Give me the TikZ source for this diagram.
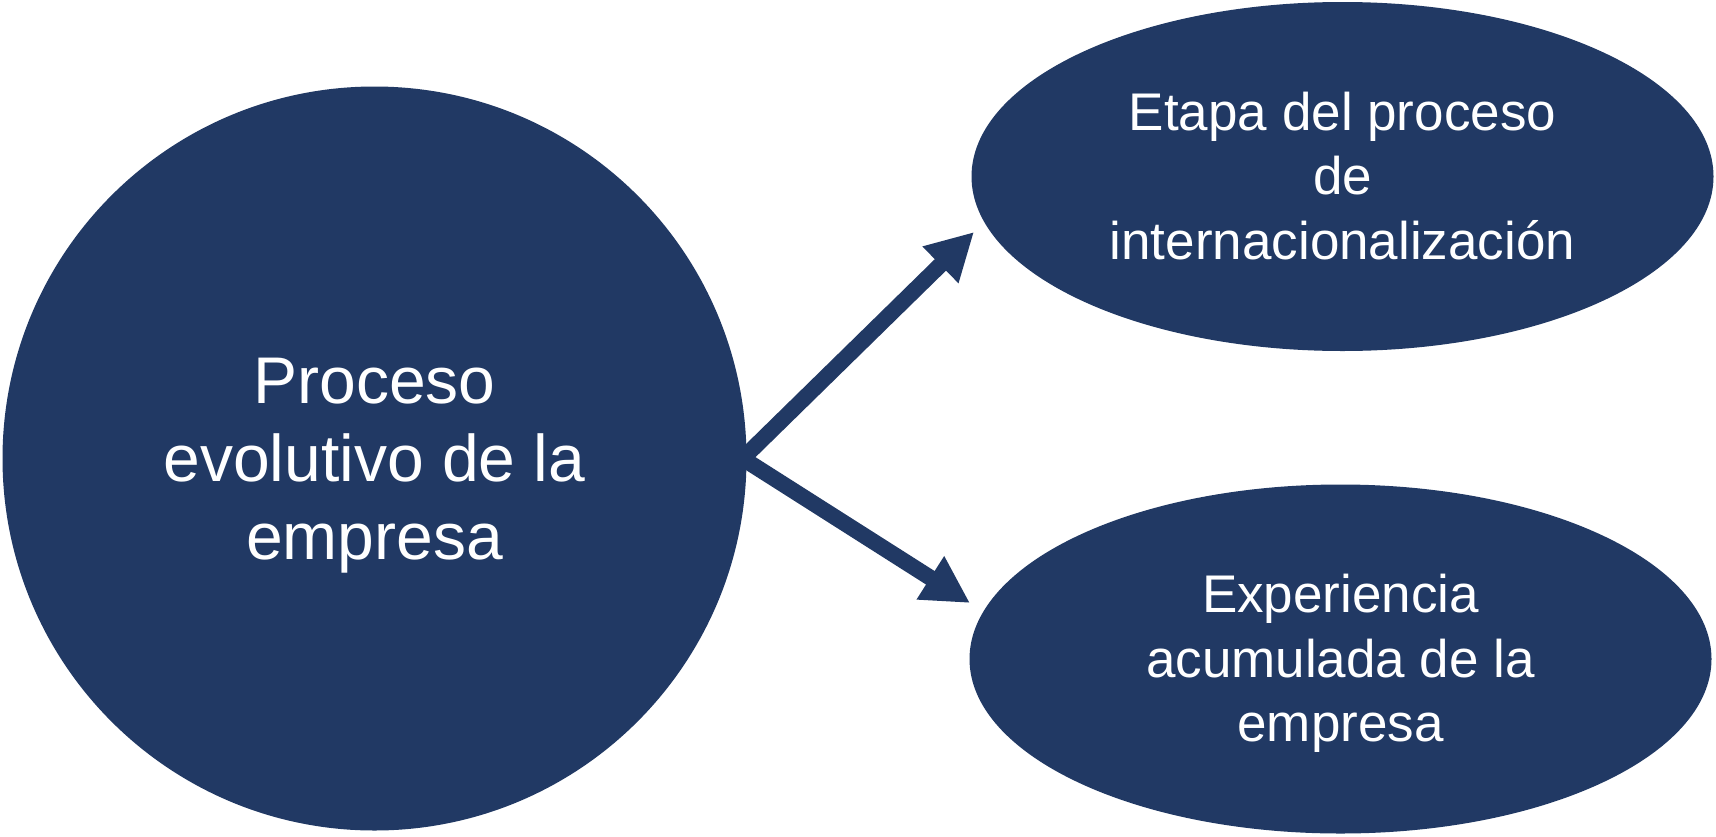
\documentclass[tikz,border=0pt]{standalone}
\usepackage{fontspec}
\setmainfont{Liberation Sans}
\usetikzlibrary{shapes.geometric,arrows.meta}
\definecolor{navy}{RGB}{33,57,100}
\newcommand{\ppstrut}{\rule[-0.212em]{0pt}{1.117em}}
\tikzset{
  bigcirc/.style={circle, fill=navy, draw=none, inner sep=0pt, minimum size=744pt,
    text=white, align=center, font=\fontsize{66}{78}\selectfont},
  oval/.style={ellipse, fill=navy, draw=none, inner sep=0pt, minimum width=742pt, minimum height=349pt,
    text=white, align=center, font=\fontsize{53}{64.5}\selectfont},
  arr/.style={draw=navy, line width=16pt, -{Triangle[length=47pt,width=48pt]}}
}
\begin{document}
\begin{tikzpicture}[x=1pt,y=-1pt]
\useasboundingbox[fill=white] (0,0) rectangle (1716,836);
\node[bigcirc] (proc) at (374.5,458.5) {\ppstrut Proceso\\\ppstrut evolutivo de la\\\ppstrut empresa};
\node[oval] (etapa) at (1342.5,176.5) {\ppstrut Etapa del proceso\\\ppstrut de\\\ppstrut internacionalización};
\node[oval] (exp) at (1340.5,659) {\ppstrut Experiencia\\\ppstrut acumulada de la\\\ppstrut empresa};
\coordinate (tipA) at (974,232);
\coordinate (tipB) at (970,603);
\draw[arr] ([xshift=-4pt]proc.east) -- (tipA);
\draw[arr] ([xshift=-4pt]proc.east) -- (tipB);
\end{tikzpicture}
\end{document}
